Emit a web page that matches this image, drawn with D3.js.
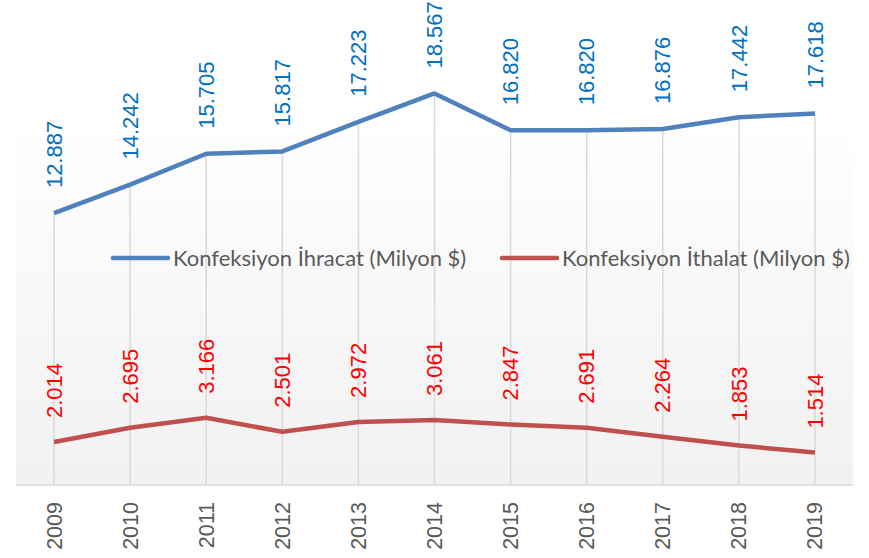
<!DOCTYPE html>
<html>
<head>
<meta charset="utf-8">
<script src="https://cdn.jsdelivr.net/npm/d3@7"></script>
<style>
  body { margin: 0; background: #fff; }
  svg { display: block; }
</style>
</head>
<body>
<div id="chart"></div>
<script>
var years = ["2009", "2010", "2011", "2012", "2013", "2014", "2015", "2016", "2017", "2018", "2019"];
var ihracat = [12.887, 14.242, 15.705, 15.817, 17.223, 18.567, 16.820, 16.820, 16.876, 17.442, 17.618];
var ithalat = [2.014, 2.695, 3.166, 2.501, 2.972, 3.061, 2.847, 2.691, 2.264, 1.853, 1.514];
var seriesNames = ["Konfeksiyon İhracat (Milyon $)", "Konfeksiyon İthalat (Milyon $)"];

(function() {
	var width = 869;
	var height = 558;

	var plotLeft = 16, plotRight = 853, plotTop = 112, baseY = 485;

	var svg = d3.select("#chart")
				.append("svg")
				.attr("width", width)
				.attr("height", height);

	var defs = svg.append("defs");
	var grad = defs.append("linearGradient")
				   .attr("id", "bg")
				   .attr("x1", 0).attr("y1", 0)
				   .attr("x2", 0).attr("y2", 1);
	grad.append("stop").attr("offset", "0%").attr("stop-color", "#ffffff");
	grad.append("stop").attr("offset", "100%").attr("stop-color", "#f1f1f1");

	var xScale = d3.scaleBand()
				   .domain(years)
				   .range([plotLeft, plotRight]);

	// about 21 px per unit, zero on the axis line
	var yScale = d3.scaleLinear()
				   .domain([0, 20])
				   .range([baseY - 0.5, baseY - 0.5 - 20 * 21.06]);

	function cx(d) { return xScale(d) + xScale.bandwidth() / 2; }

	svg.append("rect")
	   .attr("x", plotLeft)
	   .attr("y", plotTop)
	   .attr("width", plotRight - plotLeft)
	   .attr("height", baseY - plotTop)
	   .attr("fill", "url(#bg)");

	// drop lines
	svg.append("g")
	   .selectAll("line")
	   .data(years)
	   .enter()
	   .append("line")
	   .attr("x1", cx)
	   .attr("x2", cx)
	   .attr("y1", function(d, i) { return yScale(ihracat[i]); })
	   .attr("y2", baseY)
	   .attr("stroke", "#d9d9d9")
	   .attr("stroke-width", 1.5);

	// x axis
	var xAxis = d3.axisBottom(xScale).tickSize(0).tickPadding(0);
	var gx = svg.append("g")
				.attr("transform", "translate(0," + baseY + ")")
				.call(xAxis);
	gx.select(".domain")
	  .attr("stroke", "#d9d9d9")
	  .attr("stroke-width", 1.5)
	  .attr("d", "M" + plotLeft + ",0H" + plotRight);
	gx.selectAll("text")
	  .attr("font-family", "'Liberation Sans', Arial, sans-serif")
	  .attr("font-size", 21.5)
	  .attr("fill", "#595959")
	  .attr("text-anchor", "end")
	  .attr("dy", "0.35em")
	  .attr("transform", "translate(0,17) rotate(-90)")
	  .attr("x", 0)
	  .attr("y", 0);

	var line = d3.line()
				 .x(function(d, i) { return cx(years[i]); })
				 .y(function(d) { return yScale(d); });

	var series = [
		{ values: ihracat, color: "#4f81bd", label: "#0070c0", gap: 25 },
		{ values: ithalat, color: "#c0504d", label: "#ff0000", gap: 24 }
	];

	series.forEach(function(s) {
		svg.append("path")
		   .datum(s.values)
		   .attr("d", line)
		   .attr("fill", "none")
		   .attr("stroke", s.color)
		   .attr("stroke-width", 4.5)
		   .attr("stroke-linejoin", "round");

		svg.append("g")
		   .selectAll("text")
		   .data(s.values)
		   .enter()
		   .append("text")
		   .attr("transform", function(d, i) {
		   		return "translate(" + cx(years[i]) + "," + (yScale(d) - s.gap) + ") rotate(-90)";
		   })
		   .attr("dy", "0.35em")
		   .attr("font-family", "'Liberation Sans', Arial, sans-serif")
		   .attr("font-size", 22)
		   .attr("fill", s.label)
		   .text(function(d) { return d.toFixed(3); });
	});

	// legend
	var legendItems = [
		{ name: seriesNames[0], color: "#4f81bd", x: 113 },
		{ name: seriesNames[1], color: "#c0504d", x: 502 }
	];
	var legend = svg.append("g");
	legendItems.forEach(function(l) {
		legend.append("line")
			  .attr("x1", l.x).attr("x2", l.x + 55)
			  .attr("y1", 258).attr("y2", 258)
			  .attr("stroke", l.color)
			  .attr("stroke-width", 4.5)
			  .attr("stroke-linecap", "round");
		legend.append("text")
			  .attr("x", l.x + 60)
			  .attr("y", 258)
			  .attr("dy", "0.35em")
			  .attr("font-family", "Lato, 'Open Sans', sans-serif")
			  .attr("font-size", 22)
			  .attr("fill", "#595959")
			  .text(l.name);
	});
}());
</script>
</body>
</html>
